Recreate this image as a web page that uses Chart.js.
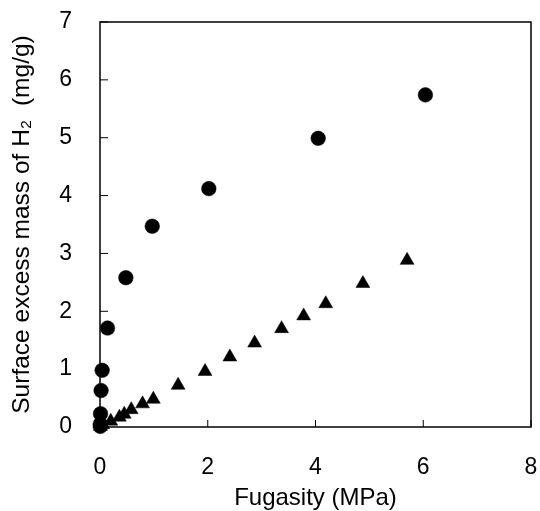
<!DOCTYPE html>
<html>
<head>
<meta charset="utf-8">
<script src="https://cdn.jsdelivr.net/npm/chart.js@4"></script>
<style>
  html, body { margin: 0; padding: 0; background: #fff; }
  #wrap { width: 540px; height: 511px; }
</style>
</head>
<body>
<div id="wrap"><canvas id="isoChart" width="540" height="511"></canvas></div>
<script>
// fugacity (MPa) and surface excess mass (mg/g)
const circleX = [0.005, 0.005, 0.01, 0.02, 0.04, 0.14, 0.48, 0.97, 2.02, 4.05, 6.04];
const circleY = [0.01, 0.05, 0.23, 0.63, 0.98, 1.71, 2.58, 3.47, 4.12, 4.99, 5.74];
const triangleX = [0.01, 0.05, 0.20, 0.36, 0.45, 0.58, 0.79, 0.99, 1.45, 1.95, 2.41, 2.87, 3.37, 3.78, 4.19, 4.88, 5.70];
const triangleY = [0.01, 0.04, 0.10, 0.17, 0.22, 0.30, 0.40, 0.48, 0.72, 0.96, 1.21, 1.45, 1.70, 1.92, 2.13, 2.48, 2.88];
const xTicks = [0, 2, 4, 6, 8];
const yTicks = [0, 1, 2, 3, 4, 5, 6, 7];

const toPoints = (xs, ys) => xs.map((x, i) => ({ x: x, y: ys[i] }));
const fontFamily = "'Liberation Sans', Arial, sans-serif";

// frame around plot area + inward tick marks
const framePlugin = {
    id: 'frame',
    afterDraw(chart) {
        const { ctx, chartArea, scales } = chart;
        ctx.save();
        ctx.strokeStyle = '#000';
        ctx.lineWidth = 1.5;
        ctx.strokeRect(chartArea.left, chartArea.top, chartArea.right - chartArea.left, chartArea.bottom - chartArea.top);
        ctx.beginPath();
        xTicks.forEach(v => {
            const px = scales.x.getPixelForValue(v);
            ctx.moveTo(px, chartArea.bottom);
            ctx.lineTo(px, chartArea.bottom - 7);
        });
        yTicks.forEach(v => {
            const py = scales.y.getPixelForValue(v);
            ctx.moveTo(chartArea.left, py);
            ctx.lineTo(chartArea.left + 8, py);
        });
        ctx.lineWidth = 1;
        ctx.stroke();
        ctx.restore();
    }
};

new Chart(document.getElementById('isoChart').getContext('2d'), {
    type: 'scatter',
    data: {
        datasets: [
            {
                label: 'circles',
                data: toPoints(circleX, circleY),
                pointStyle: 'circle',
                pointRadius: 7.3,
                pointBackgroundColor: '#000',
                pointBorderColor: '#000',
                pointBorderWidth: 0.5
            },
            {
                label: 'triangles',
                data: toPoints(triangleX, triangleY),
                pointStyle: 'triangle',
                pointRadius: 8,
                pointBackgroundColor: '#000',
                pointBorderColor: '#000',
                pointBorderWidth: 0.5
            }
        ]
    },
    options: {
        responsive: false,
        animation: false,
        clip: false,
        layout: { padding: { top: 22, right: 9, left: 0, bottom: 0 } },
        plugins: {
            legend: { display: false },
            tooltip: { enabled: false }
        },
        scales: {
            x: {
                type: 'linear',
                min: 0,
                max: 8,
                afterBuildTicks: s => { s.ticks = xTicks.map(v => ({ value: v })); },
                afterFit: s => {
                    s.height = 84;
                    s.paddingLeft = 0;
                    s.paddingRight = 0;
                },
                grid: { display: false },
                border: { display: false },
                ticks: {
                    color: '#000',
                    padding: 19,
                    font: { family: fontFamily, size: 23 }
                },
                title: {
                    display: true,
                    text: 'Fugasity (MPa)',
                    color: '#000',
                    padding: { top: 0, bottom: -2 },
                    font: { family: fontFamily, size: 24 }
                }
            },
            y: {
                type: 'linear',
                min: 0,
                max: 7,
                afterBuildTicks: s => { s.ticks = yTicks.map(v => ({ value: v })); },
                afterFit: s => {
                    s.width = 100;
                    s.paddingTop = 0;
                    s.paddingBottom = 0;
                },
                grid: { display: false },
                border: { display: false },
                ticks: {
                    color: '#000',
                    padding: 20,
                    font: { family: fontFamily, size: 23 }
                },
                title: {
                    display: true,
                    text: 'Surface excess mass of H\u2082  (mg/g)',
                    color: '#000',
                    padding: { top: 8 },
                    font: { family: fontFamily, size: 24.5 }
                }
            }
        }
    },
    plugins: [framePlugin]
});
</script>
</body>
</html>
